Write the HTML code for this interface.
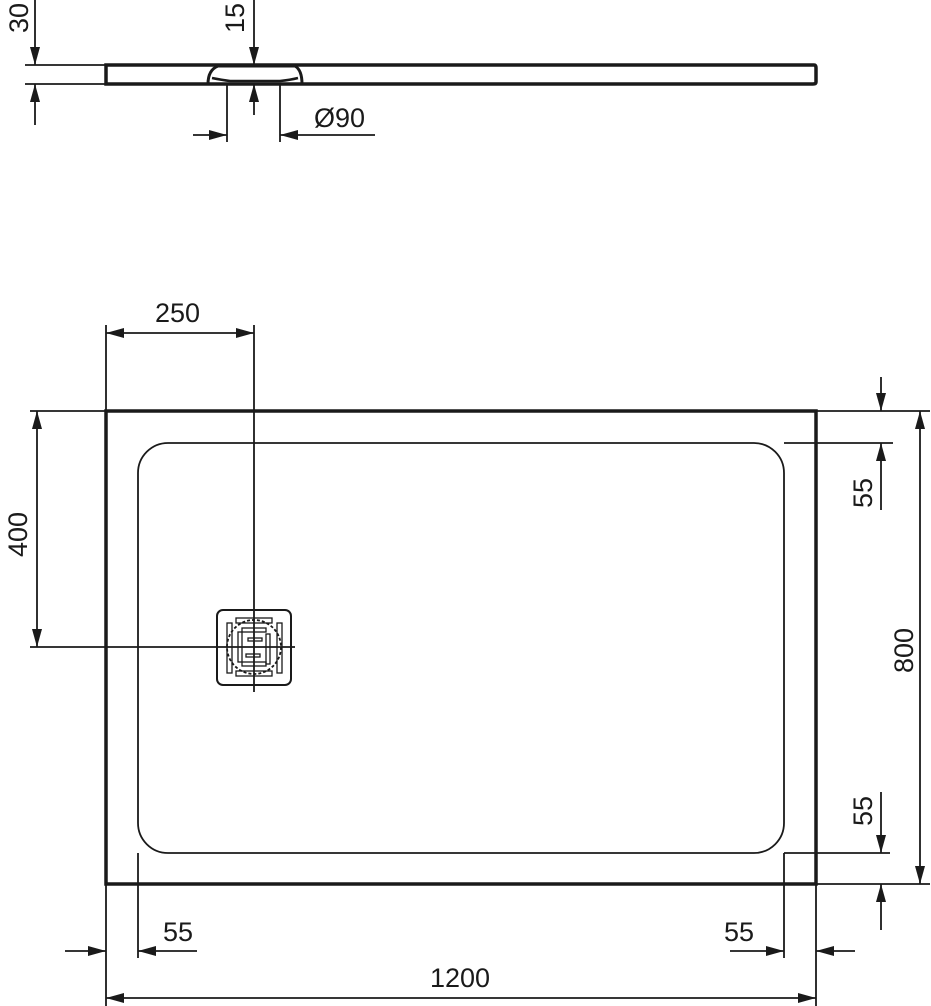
<!DOCTYPE html>
<html><head><style>html,body{margin:0;padding:0;background:#fff}svg{display:block}text{font-family:"Liberation Sans",sans-serif;font-size:27px;fill:#1a1a1a}</style></head>
<body>
<svg width="931" height="1006" viewBox="0 0 931 1006" xmlns="http://www.w3.org/2000/svg">
<defs>
<marker id="a" viewBox="0 0 18 10" refX="18" refY="5" markerWidth="18" markerHeight="10" markerUnits="userSpaceOnUse" orient="auto-start-reverse"><path d="M0,0L18,5L0,10z" fill="#1a1a1a"/></marker>
</defs>
<g stroke="#1a1a1a" fill="none" stroke-width="1.8">
<path d="M106,65 H814 Q816,65 816,68 V82 Q816,84 813,84 H106 Z" stroke-width="3.5"/>
<path d="M208,84 Q208,70 218,66 L295,66 Q302,70 302,84" stroke-width="3"/>
<path d="M212,78 Q222,80 230,81 L280,81 Q290,80 298,78" stroke-width="2.5"/>
<line x1="25" y1="65" x2="106" y2="65"/>
<line x1="25" y1="84" x2="106" y2="84"/>
<line x1="35" y1="0" x2="35" y2="65" marker-end="url(#a)"/>
<line x1="35" y1="125" x2="35" y2="84" marker-end="url(#a)"/>
<line x1="254" y1="0" x2="254" y2="65" marker-end="url(#a)"/>
<line x1="254" y1="115" x2="254" y2="84" marker-end="url(#a)"/>
<line x1="227" y1="84" x2="227" y2="142"/>
<line x1="280" y1="84" x2="280" y2="142"/>
<line x1="193" y1="135" x2="227" y2="135" marker-end="url(#a)"/>
<line x1="375" y1="135" x2="280" y2="135" marker-end="url(#a)"/>
<rect x="106" y="411" width="710" height="473" stroke-width="3.5"/>
<rect x="138" y="443" width="646" height="410" rx="30"/>
<rect x="217" y="610" width="74" height="75" rx="6" stroke-width="2"/>
<circle cx="254" cy="647" r="27" stroke-dasharray="3 2"/>
<g stroke-width="1.3">
<rect x="227" y="623" width="5" height="50"/><rect x="277" y="623" width="5" height="50"/>
<rect x="236" y="618" width="36" height="5"/><rect x="236" y="671" width="36" height="5"/>
<rect x="242" y="628" width="24" height="4"/><rect x="242" y="662" width="24" height="4"/>
<rect x="238" y="632" width="4" height="30"/><rect x="266" y="634" width="4" height="30"/>
<rect x="248" y="638" width="14" height="3"/><rect x="246" y="654" width="14" height="3"/>
</g>
<line x1="30" y1="647" x2="295" y2="647"/>
<line x1="254" y1="325" x2="254" y2="692"/>
<line x1="106" y1="325" x2="106" y2="411"/>
<line x1="106" y1="333" x2="254" y2="333" marker-start="url(#a)" marker-end="url(#a)"/>
<line x1="30" y1="411" x2="106" y2="411"/>
<line x1="37" y1="411" x2="37" y2="647" marker-start="url(#a)" marker-end="url(#a)"/>
<line x1="816" y1="411" x2="930" y2="411"/>
<line x1="784" y1="443" x2="893" y2="443"/>
<line x1="784" y1="853" x2="890" y2="853"/>
<line x1="816" y1="884" x2="930" y2="884"/>
<line x1="920" y1="411" x2="920" y2="884" marker-start="url(#a)" marker-end="url(#a)"/>
<line x1="881" y1="377" x2="881" y2="411" marker-end="url(#a)"/>
<line x1="881" y1="510" x2="881" y2="443" marker-end="url(#a)"/>
<line x1="881" y1="792" x2="881" y2="853" marker-end="url(#a)"/>
<line x1="881" y1="930" x2="881" y2="884" marker-end="url(#a)"/>
<line x1="106" y1="884" x2="106" y2="1006"/>
<line x1="138" y1="853" x2="138" y2="958"/>
<line x1="784" y1="853" x2="784" y2="958"/>
<line x1="816" y1="884" x2="816" y2="1006"/>
<line x1="65" y1="951" x2="106" y2="951" marker-end="url(#a)"/>
<line x1="197" y1="951" x2="138" y2="951" marker-end="url(#a)"/>
<line x1="730" y1="951" x2="784" y2="951" marker-end="url(#a)"/>
<line x1="855" y1="951" x2="816" y2="951" marker-end="url(#a)"/>
<line x1="106" y1="998" x2="816" y2="998" marker-start="url(#a)" marker-end="url(#a)"/>
</g>
<text transform="translate(28,33) rotate(-90)">30</text>
<text transform="translate(244,33) rotate(-90)">15</text>
<text x="314" y="127">Ø90</text>
<text x="155" y="322">250</text>
<text transform="translate(27,557) rotate(-90)">400</text>
<text transform="translate(913,673) rotate(-90)">800</text>
<text transform="translate(872,508) rotate(-90)">55</text>
<text transform="translate(872,826) rotate(-90)">55</text>
<text x="163" y="941">55</text>
<text x="724" y="941">55</text>
<text x="430" y="987">1200</text>
</svg>
</body></html>
